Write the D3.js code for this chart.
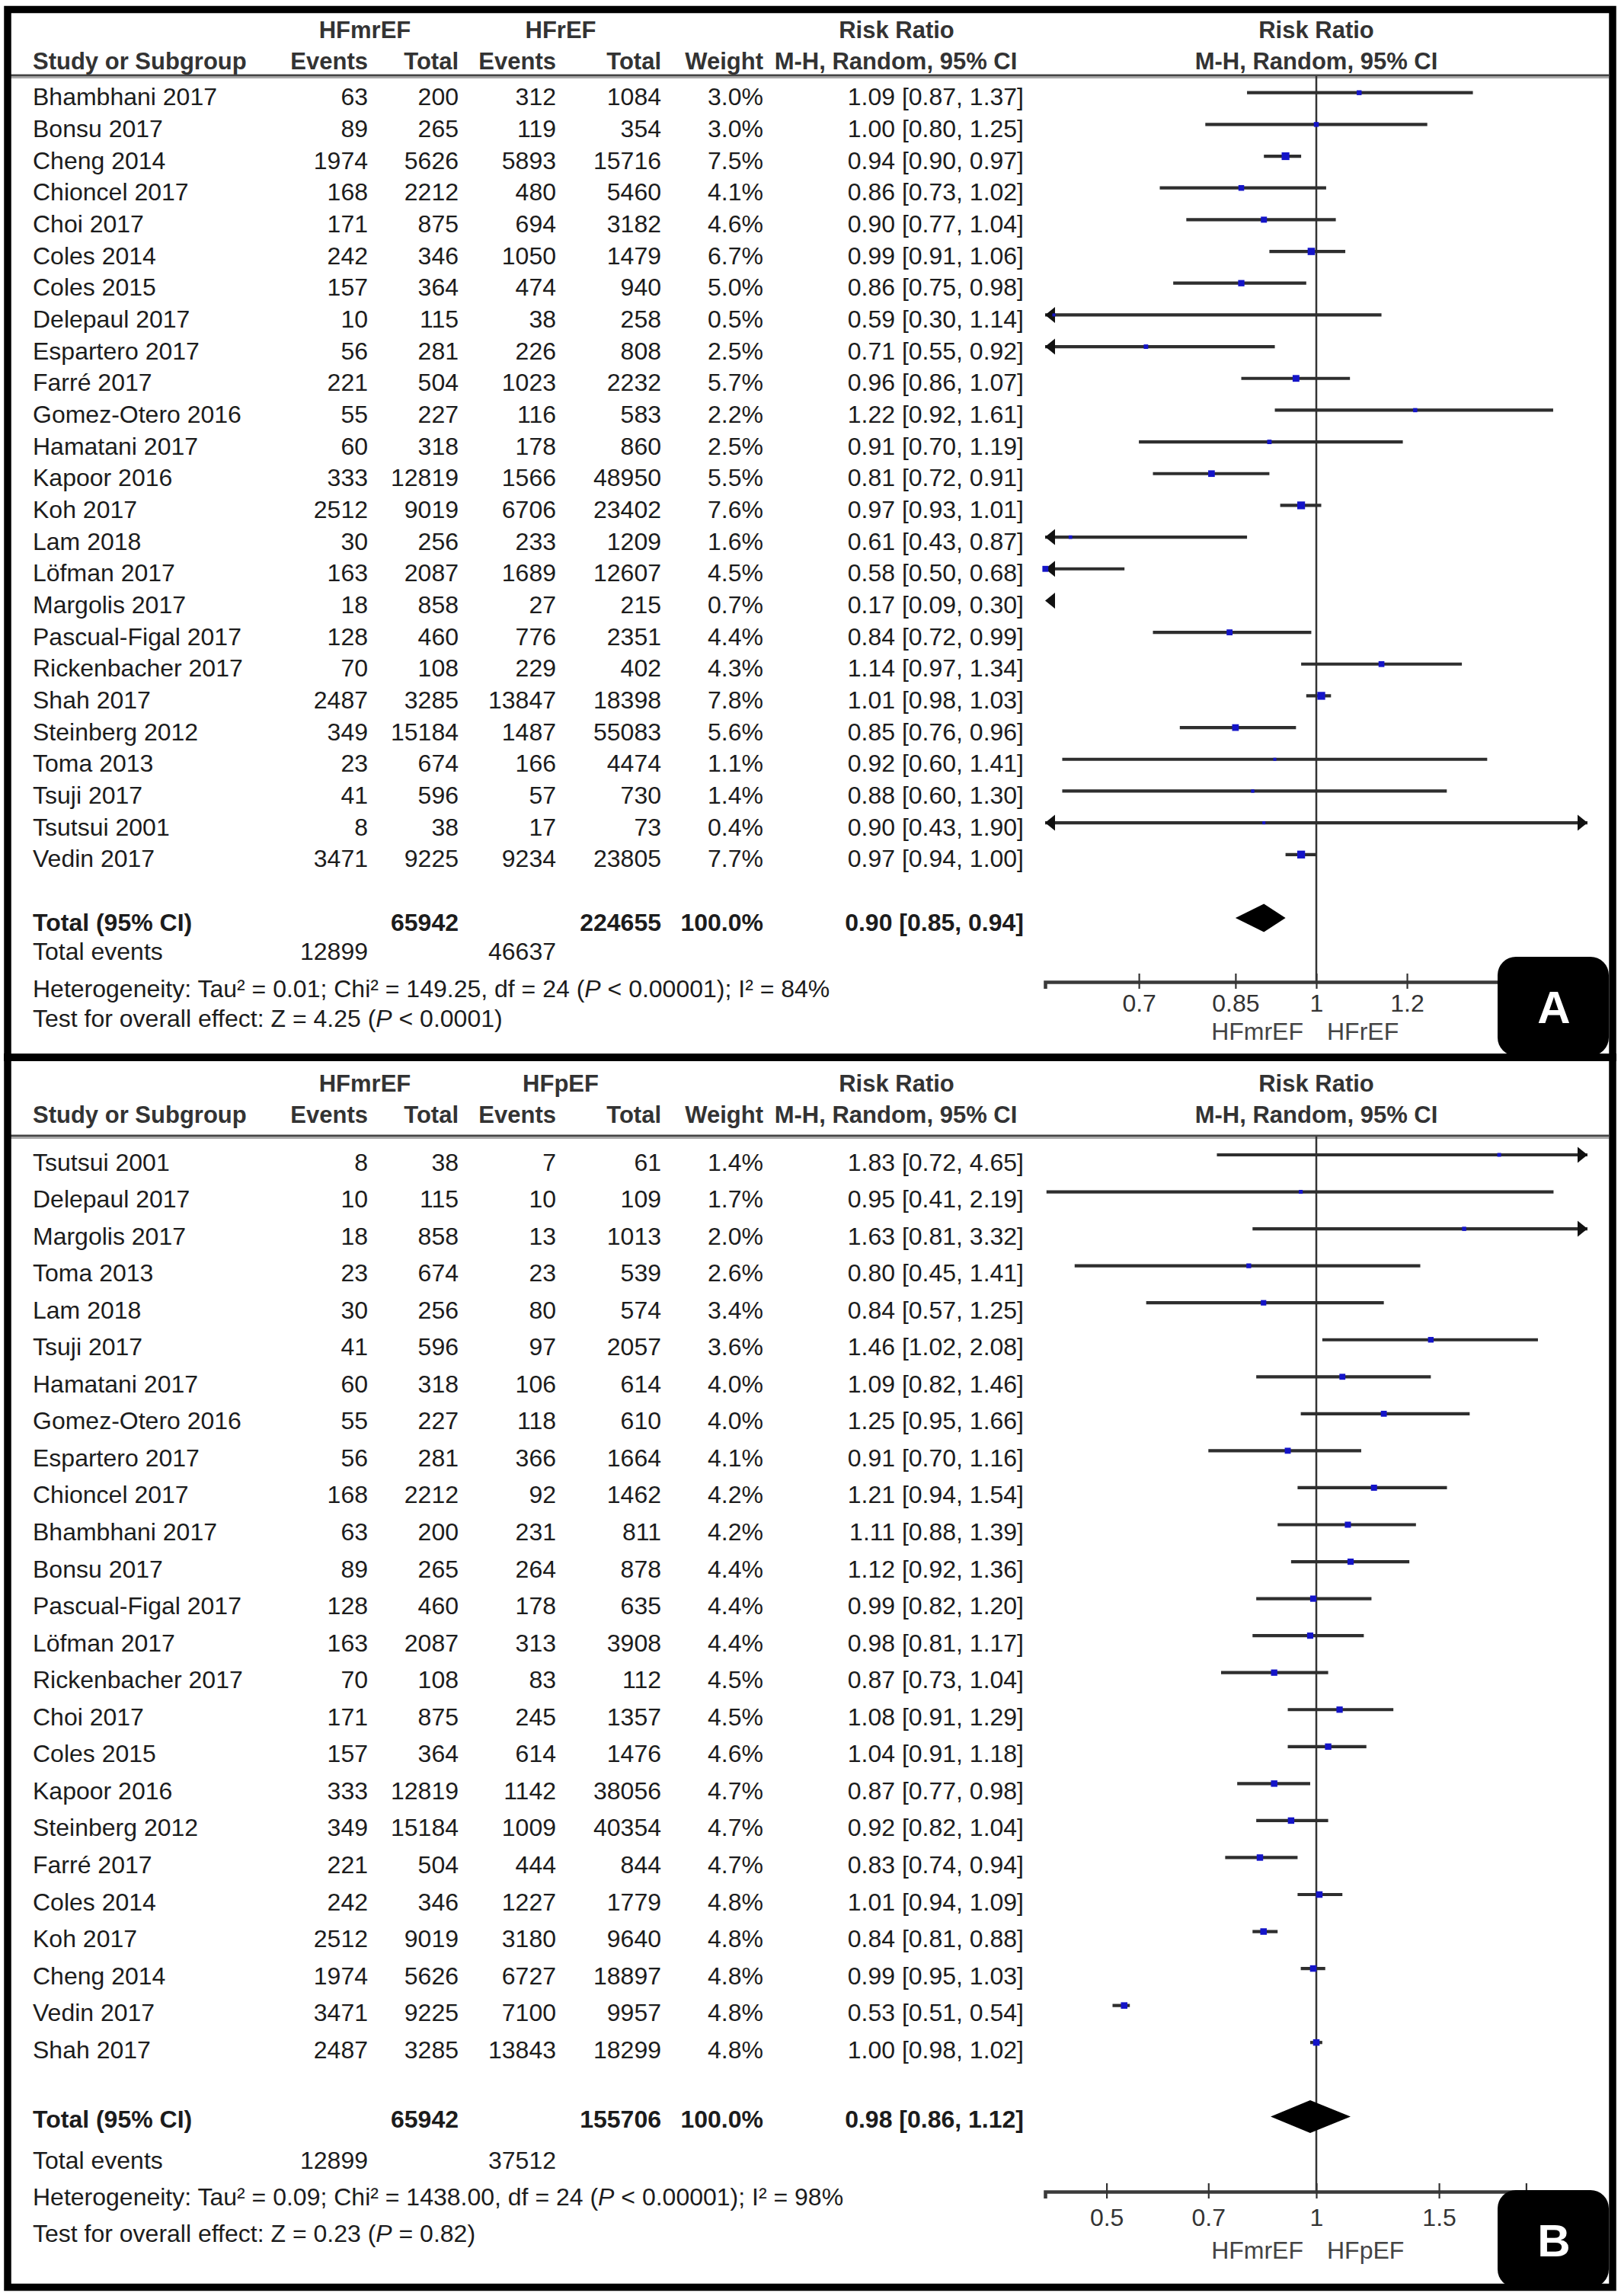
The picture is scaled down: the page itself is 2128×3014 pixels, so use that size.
<!DOCTYPE html>
<html><head><meta charset="utf-8">
<script src="https://cdn.jsdelivr.net/npm/d3@7"></script>
<style>
body{margin:0;background:#fff}
svg{display:block}
text{font-family:"Liberation Sans",Arial,Helvetica,sans-serif}
</style>
</head><body>
<svg id="chart" width="2128" height="3014"></svg>
<script>
// ---------------- Panel A: HFmrEF vs HFrEF ----------------
const studiesA = ["Bhambhani 2017","Bonsu 2017","Cheng 2014","Chioncel 2017","Choi 2017","Coles 2014","Coles 2015","Delepaul 2017","Espartero 2017","Farré 2017","Gomez-Otero 2016","Hamatani 2017","Kapoor 2016","Koh 2017","Lam 2018","Löfman 2017","Margolis 2017","Pascual-Figal 2017","Rickenbacher 2017","Shah 2017","Steinberg 2012","Toma 2013","Tsuji 2017","Tsutsui 2001","Vedin 2017"];
const eventsA1 = [63,89,1974,168,171,242,157,10,56,221,55,60,333,2512,30,163,18,128,70,2487,349,23,41,8,3471];
const totalA1  = [200,265,5626,2212,875,346,364,115,281,504,227,318,12819,9019,256,2087,858,460,108,3285,15184,674,596,38,9225];
const eventsA2 = [312,119,5893,480,694,1050,474,38,226,1023,116,178,1566,6706,233,1689,27,776,229,13847,1487,166,57,17,9234];
const totalA2  = [1084,354,15716,5460,3182,1479,940,258,808,2232,583,860,48950,23402,1209,12607,215,2351,402,18398,55083,4474,730,73,23805];
const weightA  = [3.0,3.0,7.5,4.1,4.6,6.7,5.0,0.5,2.5,5.7,2.2,2.5,5.5,7.6,1.6,4.5,0.7,4.4,4.3,7.8,5.6,1.1,1.4,0.4,7.7];
const rrA      = [1.09,1.00,0.94,0.86,0.90,0.99,0.86,0.59,0.71,0.96,1.22,0.91,0.81,0.97,0.61,0.58,0.17,0.84,1.14,1.01,0.85,0.92,0.88,0.90,0.97];
const loA      = [0.87,0.80,0.90,0.73,0.77,0.91,0.75,0.30,0.55,0.86,0.92,0.70,0.72,0.93,0.43,0.50,0.09,0.72,0.97,0.98,0.76,0.60,0.60,0.43,0.94];
const hiA      = [1.37,1.25,0.97,1.02,1.04,1.06,0.98,1.14,0.92,1.07,1.61,1.19,0.91,1.01,0.87,0.68,0.30,0.99,1.34,1.03,0.96,1.41,1.30,1.90,1.00];
const groupsA  = ["HFmrEF","HFrEF"];
const totalsA  = [65942,224655];      // total participants
const totEventsA = [12899,46637];
const pooledA  = [0.90,0.85,0.94];
const ticksA   = [0.7,0.85,1,1.2];
const statsA   = [["Heterogeneity: Tau² = 0.01; Chi² = 149.25, df = 24 (","P"," < 0.00001); I² = 84%"],
                  ["Test for overall effect: Z = 4.25 (","P"," < 0.0001)"]];

// ---------------- Panel B: HFmrEF vs HFpEF ----------------
const studiesB = ["Tsutsui 2001","Delepaul 2017","Margolis 2017","Toma 2013","Lam 2018","Tsuji 2017","Hamatani 2017","Gomez-Otero 2016","Espartero 2017","Chioncel 2017","Bhambhani 2017","Bonsu 2017","Pascual-Figal 2017","Löfman 2017","Rickenbacher 2017","Choi 2017","Coles 2015","Kapoor 2016","Steinberg 2012","Farré 2017","Coles 2014","Koh 2017","Cheng 2014","Vedin 2017","Shah 2017"];
const eventsB1 = [8,10,18,23,30,41,60,55,56,168,63,89,128,163,70,171,157,333,349,221,242,2512,1974,3471,2487];
const totalB1  = [38,115,858,674,256,596,318,227,281,2212,200,265,460,2087,108,875,364,12819,15184,504,346,9019,5626,9225,3285];
const eventsB2 = [7,10,13,23,80,97,106,118,366,92,231,264,178,313,83,245,614,1142,1009,444,1227,3180,6727,7100,13843];
const totalB2  = [61,109,1013,539,574,2057,614,610,1664,1462,811,878,635,3908,112,1357,1476,38056,40354,844,1779,9640,18897,9957,18299];
const weightB  = [1.4,1.7,2.0,2.6,3.4,3.6,4.0,4.0,4.1,4.2,4.2,4.4,4.4,4.4,4.5,4.5,4.6,4.7,4.7,4.7,4.8,4.8,4.8,4.8,4.8];
const rrB      = [1.83,0.95,1.63,0.80,0.84,1.46,1.09,1.25,0.91,1.21,1.11,1.12,0.99,0.98,0.87,1.08,1.04,0.87,0.92,0.83,1.01,0.84,0.99,0.53,1.00];
const loB      = [0.72,0.41,0.81,0.45,0.57,1.02,0.82,0.95,0.70,0.94,0.88,0.92,0.82,0.81,0.73,0.91,0.91,0.77,0.82,0.74,0.94,0.81,0.95,0.51,0.98];
const hiB      = [4.65,2.19,3.32,1.41,1.25,2.08,1.46,1.66,1.16,1.54,1.39,1.36,1.20,1.17,1.04,1.29,1.18,0.98,1.04,0.94,1.09,0.88,1.03,0.54,1.02];
const groupsB  = ["HFmrEF","HFpEF"];
const totalsB  = [65942,155706];
const totEventsB = [12899,37512];
const pooledB  = [0.98,0.86,1.12];
const ticksB   = [0.5,0.7,1,1.5,2];
const statsB   = [["Heterogeneity: Tau² = 0.09; Chi² = 1438.00, df = 24 (","P"," < 0.00001); I² = 98%"],
                  ["Test for overall effect: Z = 0.23 (","P"," = 0.82)"]];

// ---------------- drawing ----------------
const svg = d3.select("#chart");
svg.append("rect").attr("width",2128).attr("height",3014).attr("fill","#fff");

const FS = 32, HFS = 31;
const COL = {study:43, ev1:483, tot1:602, ev2:730, tot2:868, wt:1002, rr:1344};
const DATA_COL = "#1c1c1c", HEAD_COL = "#333";

function drawPanel(P){
  const g = svg.append("g");
  const x = d3.scaleLog().domain(P.domain).range([1372,2084]);
  const [dmin,dmax] = P.domain;

  // header
  const h1 = P.head1, h2 = P.head2;
  const ht = (t,xx,yy,anchor)=>g.append("text").attr("x",xx).attr("y",yy).attr("text-anchor",anchor)
      .attr("font-size",HFS).attr("font-weight","bold").attr("fill",HEAD_COL).text(t);
  ht(P.groups[0],479,h1,"middle");
  ht(P.groups[1],736,h1,"middle");
  ht("Risk Ratio",1177,h1,"middle");
  ht("Risk Ratio",1728,h1,"middle");
  ht("Study or Subgroup",COL.study,h2,"start");
  ht("Events",COL.ev1,h2,"end");
  ht("Total",COL.tot1,h2,"end");
  ht("Events",COL.ev2,h2,"end");
  ht("Total",COL.tot2,h2,"end");
  ht("Weight",COL.wt,h2,"end");
  ht("M-H, Random, 95% CI",1176,h2,"middle");
  ht("M-H, Random, 95% CI",1728,h2,"middle");
  g.append("line").attr("x1",14).attr("x2",2112).attr("y1",P.hline).attr("y2",P.hline)
    .attr("stroke","#444").attr("stroke-width",3);
  g.append("line").attr("x1",14).attr("x2",2112).attr("y1",P.hline+3).attr("y2",P.hline+3)
    .attr("stroke","#aaa").attr("stroke-width",2);

  // vertical line of no effect
  g.append("line").attr("x1",x(1)).attr("x2",x(1)).attr("y1",P.hline+1).attr("y2",P.axisY)
    .attr("stroke","#333").attr("stroke-width",2.5);

  const rows = P.studies.map((s,i)=>({s,e1:P.ev1[i],t1:P.tot1[i],e2:P.ev2[i],t2:P.tot2[i],
      w:P.wt[i],rr:P.rr[i],lo:P.lo[i],hi:P.hi[i]}));
  const rg = g.selectAll("g.row").data(rows).join("g")
    .attr("transform",(d,i)=>`translate(0,${P.base0 + i*P.step})`);
  const cell = (sel,key,xx,anchor,fmt)=>sel.append("text").attr("x",xx).attr("text-anchor",anchor)
      .attr("font-size",FS).attr("fill",DATA_COL).text(d=>fmt?fmt(d):d[key]);
  cell(rg,"s",COL.study,"start");
  cell(rg,"e1",COL.ev1,"end");
  cell(rg,"t1",COL.tot1,"end");
  cell(rg,"e2",COL.ev2,"end");
  cell(rg,"t2",COL.tot2,"end");
  cell(rg,null,COL.wt,"end",d=>d.w.toFixed(1)+"%");
  cell(rg,null,COL.rr,"end",d=>`${d.rr.toFixed(2)} [${d.lo.toFixed(2)}, ${d.hi.toFixed(2)}]`);

  // CI lines
  const ly = -P.lineOff;
  rg.each(function(d){
    const s = d3.select(this);
    const a = Math.max(d.lo,dmin), b = Math.min(d.hi,dmax);
    if (a < b) {
      s.append("line").attr("x1",x(a)).attr("x2",x(b)).attr("y1",ly).attr("y2",ly)
        .attr("stroke","#2e2e2e").attr("stroke-width",4.2);
    }
    if (d.lo < dmin) {
      const x0 = x(dmin);
      s.append("path").attr("d",`M${x0},${ly} L${x0+13},${ly-10.5} L${x0+13},${ly+10.5} Z`).attr("fill","#111");
    }
    if (d.hi > dmax) {
      const x0 = x(dmax);
      s.append("path").attr("d",`M${x0},${ly} L${x0-13},${ly-10.5} L${x0-13},${ly+10.5} Z`).attr("fill","#111");
    }
    if (d.rr >= dmin && d.rr <= dmax) {
      const sz = Math.max(P.minSq, P.sqK*Math.sqrt(d.w));
      s.append("rect").attr("x",x(d.rr)-sz/2).attr("y",ly-sz/2).attr("width",sz).attr("height",sz)
        .attr("fill","#1414c8");
    }
  });

  // totals
  const bt = (t,xx,yy,anchor)=>g.append("text").attr("x",xx).attr("y",yy).attr("text-anchor",anchor)
      .attr("font-size",FS).attr("font-weight","bold").attr("fill",DATA_COL).text(t);
  bt("Total (95% CI)",COL.study,P.totY,"start");
  bt(P.totals[0],COL.tot1,P.totY,"end");
  bt(P.totals[1],COL.tot2,P.totY,"end");
  bt("100.0%",COL.wt,P.totY,"end");
  bt(`${P.pooled[0].toFixed(2)} [${P.pooled[1].toFixed(2)}, ${P.pooled[2].toFixed(2)}]`,COL.rr,P.totY,"end");
  const dy = P.diaY, hh = P.diaH;
  g.append("path").attr("d",`M${x(P.pooled[1])},${dy} L${x(P.pooled[0])},${dy-hh} L${x(P.pooled[2])},${dy} L${x(P.pooled[0])},${dy+hh} Z`)
    .attr("fill","#000");

  const rt = (t,xx,yy,anchor)=>g.append("text").attr("x",xx).attr("y",yy).attr("text-anchor",anchor)
      .attr("font-size",FS).attr("fill",DATA_COL).text(t);
  rt("Total events",COL.study,P.evY,"start");
  rt(P.totEvents[0],COL.ev1,P.evY,"end");
  rt(P.totEvents[1],COL.ev2,P.evY,"end");
  P.stats.forEach((parts,i)=>{
    const t = g.append("text").attr("x",COL.study).attr("y",P.statY[i]).attr("font-size",FS).attr("fill",DATA_COL);
    parts.forEach((p,j)=>t.append("tspan").attr("font-style",j===1?"italic":null).text(p));
  });

  // axis
  const ax = d3.axisBottom(x).tickValues(P.ticks).tickFormat(d=>String(d)).tickSizeOuter(0).tickSize(9);
  const ag = g.append("g").attr("transform",`translate(0,${P.axisY})`).call(ax);
  ag.select(".domain").attr("stroke","#3a3a3a").attr("stroke-width",4.5);
  ag.selectAll(".tick line").attr("y1",-11).attr("y2",9).attr("stroke","#333").attr("stroke-width",2.2);
  ag.selectAll(".tick text").attr("y",P.tickLab).attr("dy",null).attr("font-size",FS)
    .attr("font-family",null).attr("fill","#333");
  g.append("text").attr("x",x(1)-17).attr("y",P.axisY+P.favLab).attr("text-anchor","end")
    .attr("font-size",FS).attr("fill","#444").text(P.favour[0]);
  g.append("text").attr("x",x(1)+14).attr("y",P.axisY+P.favLab).attr("text-anchor","start")
    .attr("font-size",FS).attr("fill","#444").text(P.favour[1]);

  // panel letter
  g.append("rect").attr("x",1966).attr("y",P.boxY).attr("width",146).attr("height",P.boxH)
    .attr("rx",24).attr("fill","#000");
  g.append("text").attr("x",2040).attr("y",P.letterY).attr("text-anchor","middle")
    .attr("font-size",60).attr("font-weight","bold").attr("fill","#fff").text(P.letter);
}

drawPanel({
  studies:studiesA, ev1:eventsA1, tot1:totalA1, ev2:eventsA2, tot2:totalA2, wt:weightA,
  rr:rrA, lo:loA, hi:hiA, groups:groupsA, totals:totalsA, totEvents:totEventsA, pooled:pooledA,
  ticks:ticksA, stats:statsA, favour:["HFmrEF","HFrEF"], letter:"A",
  domain:[1/1.725,1.725], head1:50, head2:91, hline:99,
  base0:138.3, step:41.67, lineOff:16.6, sqK:3.7, minSq:4,
  totY:1222, diaY:1205, diaH:18.5, evY:1260, statY:[1309,1348],
  axisY:1289, tickLab:39, favLab:76, boxY:1256, boxH:130, letterY:1343
});
drawPanel({
  studies:studiesB, ev1:eventsB1, tot1:totalB1, ev2:eventsB2, tot2:totalB2, wt:weightB,
  rr:rrB, lo:loB, hi:hiB, groups:groupsB, totals:totalsB, totEvents:totEventsB, pooled:pooledB,
  ticks:ticksB, stats:statsB, favour:["HFmrEF","HFpEF"], letter:"B",
  domain:[1/2.45,2.45], head1:1433, head2:1474, hline:1491,
  base0:1536.5, step:48.55, lineOff:20.5, sqK:3.9, minSq:5,
  totY:2793, diaY:2778.5, diaH:21.5, evY:2847, statY:[2895,2943],
  axisY:2877, tickLab:45, favLab:88, boxY:2875, boxH:128, letterY:2962
});

// frame
svg.append("rect").attr("x",10).attr("y",12.5).attr("width",2107).attr("height",2990)
  .attr("fill","none").attr("stroke","#000").attr("stroke-width",9.5);
svg.append("line").attr("x1",5).attr("x2",2122).attr("y1",1388).attr("y2",1388)
  .attr("stroke","#000").attr("stroke-width",10);
</script>
</body></html>
